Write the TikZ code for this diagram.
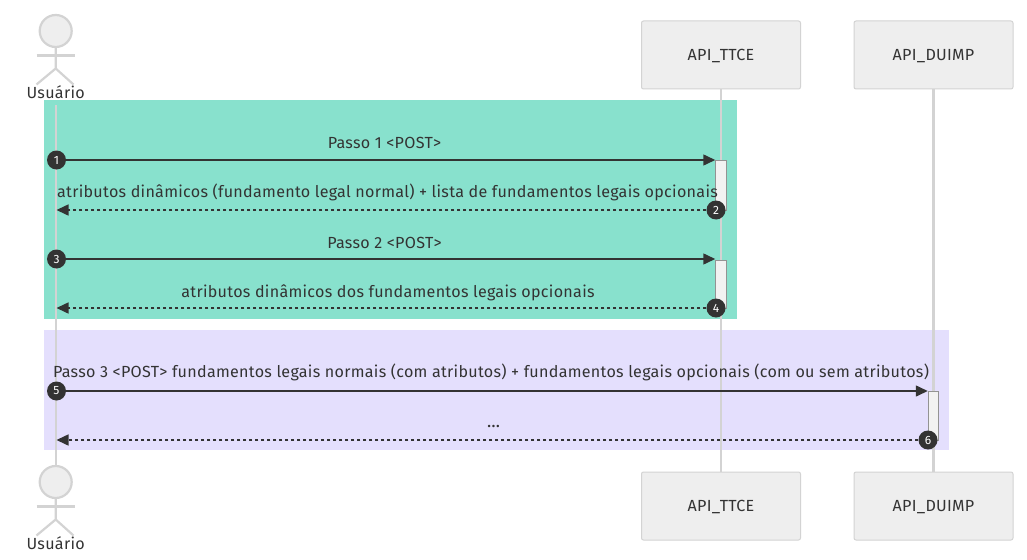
\documentclass[tikz,border=0pt]{standalone}
\usepackage{fontspec}
\setmainfont[LetterSpace=1.8]{Fira Sans}
\usetikzlibrary{arrows.meta}
\definecolor{linegray}{HTML}{D3D3D3}
\definecolor{boxfill}{HTML}{EEEEEE}
\definecolor{inkgray}{HTML}{333333}
\definecolor{greenbg}{HTML}{88E1CD}
\definecolor{purplebg}{HTML}{E4DFFD}
\tikzset{>={Triangle[length=12pt,width=11pt]},
    every node/.style={font=\fontsize{16.1}{18}\selectfont,text=inkgray},
    participant/.style={draw=linegray,fill=boxfill,rounded corners=2pt,line width=1pt,minimum width=159pt,minimum height=68pt,inner sep=0pt,text height=13.5pt,text depth=2.5pt},
    lifeline/.style={draw=linegray,line width=2.2pt},
    limb/.style={draw=linegray,line width=2.2pt},
    head/.style={circle,draw=linegray,fill=boxfill,line width=2.2pt,minimum size=32pt,inner sep=0pt},
    activation/.style={draw=gray!85,fill=white!95!black,line width=1pt,minimum width=10.5pt,inner sep=0pt,anchor=north},
    badge/.style={circle,fill=inkgray,minimum size=19pt,inner sep=0pt,font=\fontsize{12}{12}\selectfont,text=white},
    msg/.style={draw=inkgray,line width=1.5pt,->},
    reply/.style={draw=inkgray,line width=1.5pt,dash pattern=on 3pt off 3pt,->},
    lbl/.style={inner sep=0pt,anchor=base}}
\begin{document}
\begin{tikzpicture}[x=1pt,y=-1pt]
    \useasboundingbox (0,0) rectangle (1027,559);
    %background rects
    \fill[greenbg] (44,100) rectangle (737,319);
    \fill[purplebg] (44,330) rectangle (949,450);
    %participants
    \node[participant] (ttceTop) at (721,55) {API\_TTCE};
    \node[participant] (duimpTop) at (933.5,55) {API\_DUIMP};
    \node[participant] (ttceBottom) at (721,506) {API\_TTCE};
    \node[participant] (duimpBottom) at (933.5,506) {API\_DUIMP};
    \node[head] (headTop) at (55.7,31) {};
    \node[head] (headBottom) at (55.7,482) {};
    \node[lbl] (userTop) at (55.7,98.5) {Usuário};
    \node[lbl] (userBottom) at (55.7,549) {Usuário};
    \coordinate (lifeStart) at (55.7,105);
    %lifelines
    \draw[lifeline] (lifeStart) -- (headBottom.north);
    \draw[lifeline] (ttceTop.south) -- (ttceBottom.north);
    \draw[lifeline] (duimpTop.south) -- (duimpBottom.north);
    %actors
    \foreach \h/\y in {headTop/0,headBottom/451}{
        \draw[limb] (\h.south) -- (55.7,68.5+\y) -- (36.5,84.5+\y);
        \draw[limb] (55.7,68.5+\y) -- (73.5,84.5+\y);
        \draw[limb] (36.5,55.5+\y) -- (75,55.5+\y);
    }
    %activations
    \node[activation,minimum height=50pt] (actA) at (721,159.5) {};
    \node[activation,minimum height=48pt] (actB) at (721,259.5) {};
    \node[activation,minimum height=49pt] (actC) at (933.5,390.5) {};
    %messages
    \node[badge] (one) at (56.5,160) {1};
    \node[badge] (two) at (716,210) {2};
    \node[badge] (three) at (56.5,259) {3};
    \node[badge] (four) at (716,308) {4};
    \node[badge] (five) at (56.5,391) {5};
    \node[badge] (six) at (928,440) {6};
    \coordinate (backA) at (56.5,210);
    \coordinate (backB) at (56.5,308);
    \coordinate (backC) at (56.5,440);
    \draw[msg] (one) -- (one -| actA.west);
    \draw[reply] (two) -- (backA);
    \draw[msg] (three) -- (three -| actB.west);
    \draw[reply] (four) -- (backB);
    \draw[msg] (five) -- (five -| actC.west);
    \draw[reply] (six) -- (backC);
    %labels
    \node[lbl] (textA) at (384.5,148.5) {Passo 1 <POST>};
    \node[lbl] (textB) at (387.5,197.5) {atributos dinâmicos (fundamento legal normal) + lista de fundamentos legais opcionais};
    \node[lbl] (textC) at (384.5,248.5) {Passo 2 <POST>};
    \node[lbl] (textD) at (388,297.5) {atributos dinâmicos dos fundamentos legais opcionais};
    \node[lbl] (textE) at (491,377.5) {Passo 3 <POST> fundamentos legais normais (com atributos) + fundamentos legais opcionais (com ou sem atributos)};
    \node[lbl,font=\fontsize{17.5}{18}\selectfont] (textF) at (493.5,427.5) {…};
\end{tikzpicture}
\end{document}
